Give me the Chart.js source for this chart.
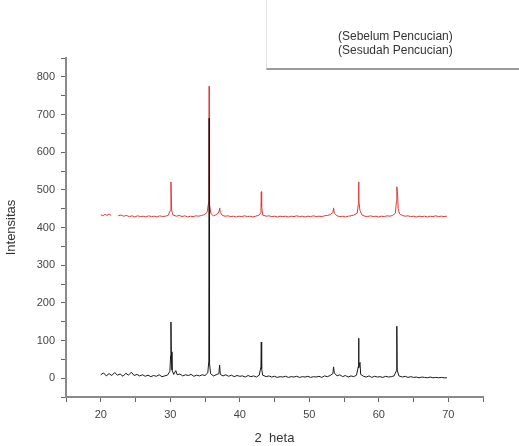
<!DOCTYPE html>
<html>
<head>
<meta charset="utf-8">
<script src="https://cdn.jsdelivr.net/npm/chart.js@4"></script>
<style>
	body { margin: 0; background: #fff; }
	#wrap { position: relative; width: 519px; height: 446px; }
	#legend {
		position: absolute; left: 266px; top: 0; width: 253px; height: 68px;
		border-left: 1px solid #e2e2e2; border-bottom: 2px solid #9a9a9a;
		font-family: "Liberation Sans", Arial, sans-serif; font-size: 12px; color: #333;
	}
	#legend div { position: absolute; left: 71px; }
</style>
</head>
<body>
<div id="wrap">
	<canvas id="xrdChart" width="519" height="446"></canvas>
	<div id="legend">
		<div style="top: 29px;">(Sebelum Pencucian)</div>
		<div style="top: 43px;">(Sesudah Pencucian)</div>
	</div>
</div>
<script>
// 2 theta / intensitas pairs
const sesudah = [
	[20,9],[20.4,14],[20.8,6],[21.2,12],[21.6,7],[22,15],[22.4,8],[22.8,11],[23.2,5],[23.6,13],
	[24,8],[24.4,16],[24.8,7],[25.2,10],[25.6,6],[26,9],[26.4,5],[26.8,8],[27.2,4],[27.6,7],
	[28,5],[28.4,9],[28.8,4],[29.2,6],[29.6,8],[29.95,18],[30.05,60],[30.1,149],[30.15,70],[30.25,22],
	[30.5,10],[30.8,20],[31.0,9],[31.4,11],[31.8,6],[32.2,9],[32.6,7],[33,10],[33.4,5],[33.8,8],
	[34.2,6],[34.6,9],[35,7],[35.4,14],[35.55,45],[35.6,690],[35.65,40],[35.8,12],[36.2,6],[36.6,9],
	[37.0,12],[37.1,35],[37.2,10],[37.6,6],[38,9],[38.4,5],[38.8,8],[39.2,4],[39.6,7],[40,5],
	[40.4,6],[40.8,3],[41.2,7],[41.6,4],[42,6],[42.4,3],[42.8,8],[43.05,30],[43.1,96],[43.15,25],
	[43.3,8],[43.8,4],[44.2,6],[44.6,3],[45,5],[45.4,2],[45.8,4],[46.2,3],[46.6,5],[47,2],
	[47.4,4],[47.8,3],[48.2,5],[48.6,2],[49,4],[49.4,3],[49.8,5],[50.2,2],[50.6,4],[51,3],
	[51.4,5],[51.8,2],[52.2,6],[52.6,4],[53,7],[53.4,12],[53.5,30],[53.6,14],[54,6],[54.4,9],
	[54.8,4],[55.2,7],[55.6,3],[56,6],[56.4,4],[56.8,8],[57.05,30],[57.1,106],[57.15,28],[57.3,42],
	[57.4,10],[57.8,5],[58.2,3],[58.6,6],[59,2],[59.4,5],[59.8,3],[60.2,4],[60.6,2],[61,5],
	[61.4,3],[61.8,4],[62.2,6],[62.55,20],[62.6,138],[62.65,22],[62.9,6],[63.4,3],[63.8,5],[64.2,2],
	[64.6,4],[65,2],[65.4,3],[65.8,1],[66.2,3],[66.6,2],[67,1],[67.4,3],[67.8,1],[68.2,2],
	[68.6,1],[69,2],[69.4,1],[69.8,1]
];

const sebelum = [
	[20,434],[20.3,431],[20.6,435],[20.9,432],[21.2,436],[21.5,432],[22.0,null],[22.5,431],[22.9,433],[23.3,430],
	[23.7,432],[24.1,429],[24.5,431],[24.9,428],[25.3,431],[25.7,429],[26.1,430],[26.5,428],[26.9,431],[27.3,429],
	[27.7,430],[28.1,428],[28.5,431],[28.9,429],[29.3,430],[29.7,432],[30.0,445],[30.1,521],[30.2,446],[30.4,433],
	[30.9,430],[31.3,432],[31.7,429],[32.1,431],[32.5,428],[32.9,430],[33.3,429],[33.7,431],[34.1,430],[34.5,432],
	[34.9,434],[35.3,440],[35.55,470],[35.6,775],[35.65,460],[35.85,437],[36.2,431],[36.5,433],[36.9,438],[37.05,445],
	[37.1,452],[37.2,440],[37.5,432],[37.9,430],[38.3,431],[38.7,429],[39.1,430],[39.5,428],[39.9,430],[40.3,429],
	[40.7,431],[41.1,429],[41.5,430],[41.9,428],[42.3,430],[42.8,433],[43.05,440],[43.1,495],[43.15,455],[43.3,433],
	[43.8,430],[44.2,431],[44.6,429],[45,430],[45.4,428],[45.8,430],[46.2,429],[46.6,430],[47,428],[47.4,430],
	[47.8,429],[48.2,431],[48.6,429],[49,430],[49.4,428],[49.8,430],[50.2,429],[50.6,431],[51,429],[51.4,430],
	[51.8,429],[52.2,431],[52.6,432],[53,434],[53.4,440],[53.5,452],[53.6,438],[54,431],[54.4,429],[54.8,430],
	[55.2,428],[55.6,430],[56,431],[56.4,433],[56.9,438],[57.05,460],[57.1,521],[57.15,470],[57.3,445],[57.6,433],
	[58,430],[58.4,429],[58.8,431],[59.2,429],[59.6,430],[60,428],[60.4,430],[60.8,429],[61.2,431],[61.6,430],
	[62,432],[62.4,438],[62.55,470],[62.6,508],[62.7,495],[62.8,450],[63.0,436],[63.4,432],[63.8,430],[64.2,431],
	[64.6,429],[65,430],[65.4,428],[65.8,430],[66.2,429],[66.6,430],[67,428],[67.4,430],[67.8,429],[68.2,431],
	[68.6,429],[69,430],[69.4,429],[69.8,430]
];

const xMin = 15, xMax = 75, xStep = 5;
const yMin = -50, yMax = 850, yStep = 50;
const xTitle = '2  heta';
const yTitle = 'Intensitas';

const toPoints = arr => arr.map(p => ({ x: p[0], y: p[1] }));
const fontFamily = '"Liberation Sans", Arial, sans-serif';

const axisBase = {
	grid: { display: true, drawOnChartArea: false, drawTicks: true, tickLength: 5, color: '#666', lineWidth: 1 },
	border: { display: true, color: '#8a8a8a', width: 2 }
};

new Chart(document.getElementById('xrdChart').getContext('2d'), {
	type: 'line',
	data: {
		datasets: [
			{ label: '(Sesudah Pencucian)', data: toPoints(sesudah), borderColor: '#1a1a1a', borderWidth: 1, pointRadius: 0, tension: 0, fill: false },
			{ label: '(Sebelum Pencucian)', data: toPoints(sebelum), borderColor: '#e03a3a', borderWidth: 1, pointRadius: 0, tension: 0, fill: false, spanGaps: false }
		]
	},
	options: {
		responsive: false,
		animation: false,
		layout: { padding: { top: 58, right: 36, left: 0, bottom: 0 } },
		plugins: { legend: { display: false }, tooltip: { enabled: false } },
		scales: {
			x: {
				...axisBase,
				type: 'linear',
				min: xMin, max: xMax,
				afterFit: scale => { scale.height = 49; },
				ticks: {
					stepSize: xStep, autoSkip: false, maxRotation: 0, padding: 6,
					color: '#444', font: { family: fontFamily, size: 11 },
					callback: v => (v % 10 === 0 ? v : '')
				},
				title: { display: true, text: xTitle, color: '#333', padding: { top: 0, bottom: 0 }, font: { family: fontFamily, size: 13 } }
			},
			y: {
				...axisBase,
				min: yMin, max: yMax,
				afterFit: scale => { scale.width = 66; },
				ticks: {
					stepSize: yStep, autoSkip: false, padding: 6,
					color: '#444', font: { family: fontFamily, size: 11 },
					callback: v => (v % 100 === 0 ? v : '')
				},
				title: { display: true, text: yTitle, color: '#333', padding: { top: 4, bottom: 4 }, font: { family: fontFamily, size: 13 } }
			}
		}
	}
});
</script>
</body>
</html>
